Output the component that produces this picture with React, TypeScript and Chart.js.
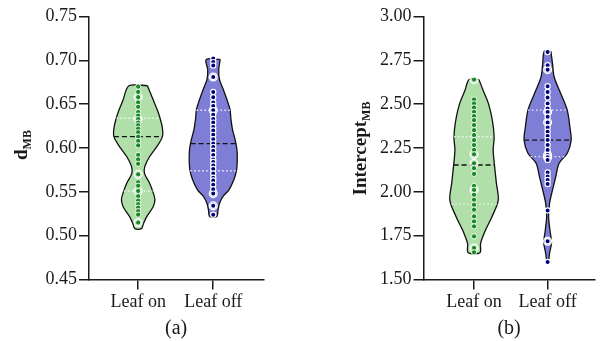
import React, { useEffect, useRef } from "react";
import { Chart, registerables } from "chart.js";

Chart.register(...registerables);

// ---------- shared ----------
const categories = ["Leaf on", "Leaf off"];

// ---------- panel (a): d_MB ----------
const dTicks = [0.45, 0.5, 0.55, 0.6, 0.65, 0.7, 0.75];
const dLeafOn = [0.670, 0.664, 0.658, 0.652, 0.647, 0.641, 0.637, 0.633, 0.629, 0.626, 0.622, 0.618, 0.613, 0.608, 0.603, 0.592, 0.587, 0.582, 0.570, 0.561, 0.557, 0.551, 0.545, 0.540, 0.536, 0.532, 0.528, 0.524, 0.515];
const dLeafOff = [0.702, 0.698, 0.694, 0.681, 0.664, 0.658, 0.652, 0.648, 0.643, 0.638, 0.633, 0.629, 0.624, 0.620, 0.615, 0.610, 0.605, 0.601, 0.597, 0.592, 0.587, 0.584, 0.580, 0.576, 0.571, 0.566, 0.563, 0.558, 0.553, 0.548, 0.534, 0.524];
const dLeafOnRings = [0.658, 0.633, 0.570, 0.551, 0.515];
const dLeafOffRings = [0.681, 0.643, 0.548, 0.534];
const dMedian = [0.613, 0.605];
const dQ1 = [0.551, 0.574];
const dQ3 = [0.634, 0.643];
// violin density profiles (level, half-width in category units)
const dOnShapeY = [0.671, 0.655, 0.640, 0.624, 0.613, 0.601, 0.590, 0.579, 0.571, 0.560, 0.548, 0.541, 0.533, 0.522, 0.514, 0.508];
const dOnShapeW = [0.123, 0.20, 0.27, 0.32, 0.323, 0.244, 0.151, 0.089, 0.084, 0.151, 0.204, 0.223, 0.20, 0.116, 0.071, 0.044];
const dOffShapeY = [0.701, 0.689, 0.678, 0.667, 0.655, 0.644, 0.632, 0.621, 0.609, 0.598, 0.587, 0.575, 0.564, 0.552, 0.545, 0.537, 0.529, 0.522];
const dOffShapeW = [0.093, 0.073, 0.084, 0.133, 0.183, 0.223, 0.237, 0.257, 0.293, 0.316, 0.32, 0.311, 0.276, 0.207, 0.133, 0.084, 0.063, 0.049];

// ---------- panel (b): Intercept_MB ----------
const iTicks = [1.5, 1.75, 2.0, 2.25, 2.5, 2.75, 3.0];
const iLeafOn = [2.640, 2.527, 2.504, 2.481, 2.456, 2.432, 2.409, 2.381, 2.352, 2.324, 2.295, 2.267, 2.239, 2.214, 2.163, 2.135, 2.102, 2.034, 2.011, 1.983, 1.955, 1.926, 1.898, 1.860, 1.831, 1.803, 1.746, 1.680, 1.655];
const iLeafOff = [2.797, 2.722, 2.697, 2.602, 2.570, 2.538, 2.504, 2.475, 2.456, 2.428, 2.396, 2.367, 2.343, 2.318, 2.295, 2.267, 2.239, 2.210, 2.197, 2.182, 2.110, 2.087, 2.068, 2.045, 1.894, 1.718, 1.600];
const iLeafOnRings = [2.640, 2.214, 2.163, 2.011, 1.680];
const iLeafOffRings = [2.697, 2.456, 2.396, 2.210, 2.197, 1.718];
const iMedian = [2.153, 2.295];
const iQ1 = [1.930, 2.201];
const iQ3 = [2.314, 2.466];
const iOnShapeY = [2.641, 2.579, 2.503, 2.408, 2.313, 2.237, 2.142, 2.048, 1.953, 1.858, 1.782, 1.706, 1.653];
const iOnShapeW = [0.067, 0.123, 0.196, 0.249, 0.273, 0.26, 0.28, 0.304, 0.329, 0.244, 0.156, 0.089, 0.08];
const iOffShapeY = [2.803, 2.731, 2.655, 2.561, 2.466, 2.371, 2.295, 2.220, 2.163, 2.087, 2.011, 1.936, 1.860, 1.784, 1.709, 1.652, 1.600];
const iOffShapeW = [0.044, 0.067, 0.089, 0.178, 0.267, 0.302, 0.32, 0.267, 0.156, 0.111, 0.067, 0.027, 0.013, 0.031, 0.053, 0.027, 0.009];

// ---------- styles ----------
const FILLS = ["#b1dfaa", "#7e7ed6"];
const DOTS = ["#178a20", "#00007f"];
const INK = "#1a1a1a";
const SERIF = "'Liberation Serif', 'Times New Roman', serif";

function outline(cx: number, ys: number[], ws: number[]) {
  const right = ys.map((y, i) => ({ x: cx + ws[i], y }));
  const left = ys.map((y, i) => ({ x: cx - ws[i], y })).reverse();
  return [...right, ...left, right[0]];
}

function widthAt(ys: number[], ws: number[], v: number) {
  for (let i = 0; i < ys.length - 1; i++) {
    const a = ys[i], b = ys[i + 1];
    if ((v <= a && v >= b) || (v >= a && v <= b)) {
      const t = (v - a) / (b - a);
      return ws[i] + t * (ws[i + 1] - ws[i]);
    }
  }
  return ws[ws.length - 1];
}

function hline(cx: number, ys: number[], ws: number[], v: number) {
  const w = widthAt(ys, ws, v);
  return [{ x: cx - w, y: v }, { x: cx + w, y: v }];
}

const yTitlePlugin = {
  id: "yTitleSub",
  afterDraw(chart: any, _args: any, opts: any) {
    if (!opts || !opts.main) return;
    const ctx = chart.ctx;
    ctx.save();
    ctx.translate(opts.x, opts.cy);
    ctx.rotate(-Math.PI / 2);
    ctx.fillStyle = INK;
    ctx.textBaseline = "alphabetic";
    ctx.textAlign = "left";
    ctx.font = `bold 19px ${SERIF}`;
    const w1 = ctx.measureText(opts.main).width;
    ctx.font = `bold 12px ${SERIF}`;
    const w2 = ctx.measureText(opts.sub).width;
    const start = -(w1 + w2) / 2;
    ctx.font = `bold 19px ${SERIF}`;
    ctx.fillText(opts.main, start, 0);
    ctx.font = `bold 12px ${SERIF}`;
    ctx.fillText(opts.sub, start + w1, 4);
    ctx.restore();
  },
};

type Spec = {
  on: number[]; off: number[]; onRings: number[]; offRings: number[];
  median: number[]; q1: number[]; q3: number[];
  onY: number[]; onW: number[]; offY: number[]; offW: number[];
  ticks: number[]; xMin: number; xMax: number; axisLeft: number; padRight: number;
  letter: string; titleMain: string; titleSub: string; titleX: number; titleCy: number;
};

function buildConfig(s: Spec): any {
  const shapes = [
    { ys: s.onY, ws: s.onW },
    { ys: s.offY, ws: s.offW },
  ];
  const pts = [s.on, s.off];
  const rings = [s.onRings, s.offRings];
  const datasets: any[] = [];
  shapes.forEach((sh, i) => {
    datasets.push({
      data: outline(i, sh.ys, sh.ws),
      showLine: true,
      fill: "shape",
      backgroundColor: FILLS[i],
      borderColor: "#111",
      borderWidth: 1.3,
      tension: 0.3,
      pointRadius: 0,
      order: 5,
    });
  });
  shapes.forEach((sh, i) => {
    datasets.push({
      data: hline(i, sh.ys, sh.ws, s.q1[i]),
      showLine: true, borderColor: "rgba(255,255,255,0.85)", borderWidth: 1.4,
      borderDash: [1.5, 2.5], pointRadius: 0, order: 4,
    });
    datasets.push({
      data: hline(i, sh.ys, sh.ws, s.q3[i]),
      showLine: true, borderColor: "rgba(255,255,255,0.85)", borderWidth: 1.4,
      borderDash: [1.5, 2.5], pointRadius: 0, order: 4,
    });
    datasets.push({
      data: hline(i, sh.ys, sh.ws, s.median[i]),
      showLine: true, borderColor: "#111", borderWidth: 1.4,
      borderDash: [5, 3], pointRadius: 0, order: 3,
    });
  });
  pts.forEach((arr, i) => {
    datasets.push({
      data: rings[i].map((v) => ({ x: i, y: v })),
      pointRadius: 3.9, pointBackgroundColor: "rgba(0,0,0,0)",
      pointBorderColor: "#ffffff", pointBorderWidth: 1.3, order: 2,
    });
    datasets.push({
      data: arr.map((v) => ({ x: i, y: v })),
      pointRadius: 2.6, pointBackgroundColor: DOTS[i],
      pointBorderColor: "#ffffff", pointBorderWidth: i === 0 ? 0.9 : 1.2, order: 1,
    });
  });

  const gridOpts = {
    display: true, drawOnChartArea: false, drawTicks: true, tickLength: 10,
    tickColor: INK, tickWidth: 1.5, color: INK, lineWidth: 1.5,
  };
  const borderOpts = { display: true, color: INK, width: 1.5 };

  return {
    type: "scatter",
    data: { datasets },
    options: {
      animation: false,
      responsive: false,
      devicePixelRatio: 1,
      events: [],
      layout: { padding: { left: 0, right: s.padRight, top: 16.5, bottom: 0 } },
      plugins: {
        legend: { display: false },
        tooltip: { enabled: false },
        yTitleSub: { main: s.titleMain, sub: s.titleSub, x: s.titleX, cy: s.titleCy },
      },
      scales: {
        x: {
          type: "linear", min: s.xMin, max: s.xMax,
          afterBuildTicks: (sc: any) => { sc.ticks = categories.map((_, i) => ({ value: i })); },
          afterFit: (sc: any) => { sc.height = 61.5; },
          ticks: {
            callback: (v: any) => categories[Math.round(v)],
            font: { family: SERIF, size: 18 }, color: INK, padding: 2,
            autoSkip: false, maxRotation: 0, minRotation: 0,
          },
          grid: gridOpts,
          border: borderOpts,
          title: { display: true, text: s.letter, font: { family: SERIF, size: 20 }, color: INK, padding: 0 },
        },
        y: {
          type: "linear", min: s.ticks[0], max: s.ticks[s.ticks.length - 1],
          afterBuildTicks: (sc: any) => { sc.ticks = s.ticks.map((v) => ({ value: v })); },
          afterFit: (sc: any) => { sc.width = s.axisLeft; },
          ticks: {
            callback: (v: any) => Number(v).toFixed(2),
            font: { family: SERIF, size: 18 }, color: INK, padding: 2, autoSkip: false,
          },
          grid: gridOpts,
          border: borderOpts,
        },
      },
    },
    plugins: [yTitlePlugin],
  };
}

const specA: Spec = {
  on: dLeafOn, off: dLeafOff, onRings: dLeafOnRings, offRings: dLeafOffRings,
  median: dMedian, q1: dQ1, q3: dQ3,
  onY: dOnShapeY, onW: dOnShapeW, offY: dOffShapeY, offW: dOffShapeW,
  ticks: dTicks, xMin: -0.655, xMax: 1.667, axisLeft: 89, padRight: 36.7,
  letter: "(a)", titleMain: "d", titleSub: "MB", titleX: 27, titleCy: 145,
};

const specB: Spec = {
  on: iLeafOn, off: iLeafOff, onRings: iLeafOnRings, offRings: iLeafOffRings,
  median: iMedian, q1: iQ1, q3: iQ3,
  onY: iOnShapeY, onW: iOnShapeW, offY: iOffShapeY, offW: iOffShapeW,
  ticks: iTicks, xMin: -0.687, xMax: 1.64, axisLeft: 123.5, padRight: 2,
  letter: "(b)", titleMain: "Intercept", titleSub: "MB", titleX: 66, titleCy: 148.5,
};

function Panel({ spec, left }: { spec: Spec; left: number }) {
  const ref = useRef<HTMLCanvasElement>(null);
  useEffect(() => {
    if (!ref.current) return;
    const chart = new Chart(ref.current, buildConfig(spec));
    return () => chart.destroy();
  }, [spec]);
  return (
    <div style={{ position: "absolute", left, top: 0, width: 300, height: 341 }}>
      <canvas ref={ref} width={300} height={341} style={{ display: "block", width: 300, height: 341 }} />
    </div>
  );
}

export default function App() {
  return (
    <div style={{ position: "fixed", left: 0, top: 0, width: 600, height: 341, background: "#ffffff", overflow: "hidden" }}>
      <Panel spec={specA} left={0} />
      <Panel spec={specB} left={300} />
    </div>
  );
}
